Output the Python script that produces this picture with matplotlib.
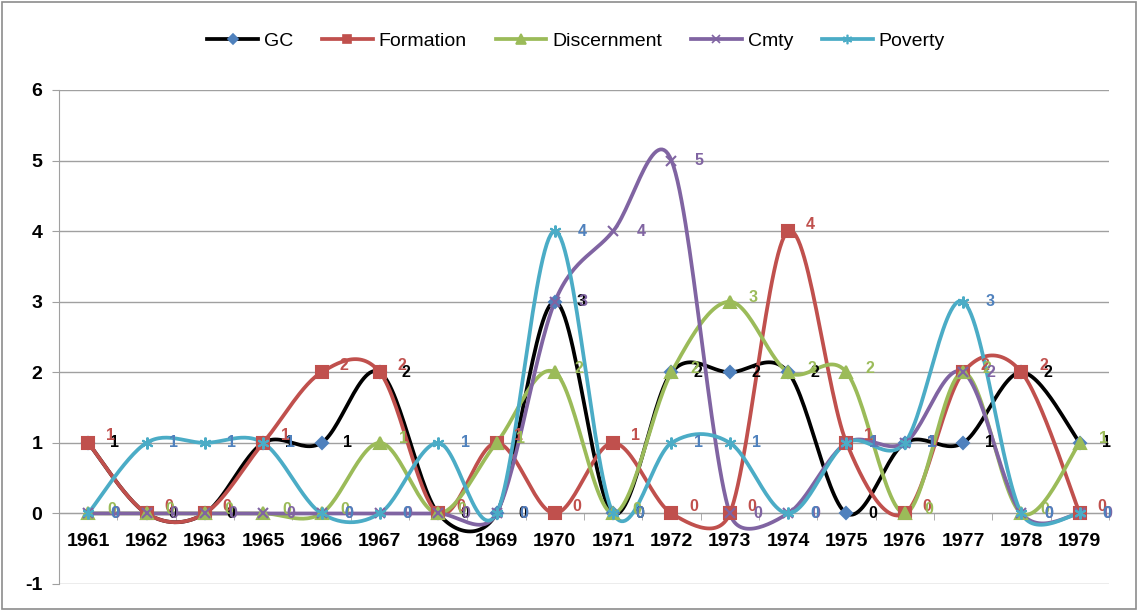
import numpy as np
import matplotlib
matplotlib.use("Agg")
import matplotlib.pyplot as plt
from matplotlib.patches import Rectangle

years = ["1961", "1962", "1963", "1965", "1966", "1967", "1968", "1969", "1970",
         "1971", "1972", "1973", "1974", "1975", "1976", "1977", "1978", "1979"]
gc = [1, 0, 0, 1, 1, 2, 0, 0, 3, 0, 2, 2, 2, 0, 1, 1, 2, 1]
formation = [1, 0, 0, 1, 2, 2, 0, 1, 0, 1, 0, 0, 4, 1, 0, 2, 2, 0]
discernment = [0, 0, 0, 0, 0, 1, 0, 1, 2, 0, 2, 3, 2, 2, 0, 2, 0, 1]
cmty = [0, 0, 0, 0, 0, 0, 0, 0, 3, 4, 5, 0, 0, 1, 1, 2, 0, 0]
poverty = [0, 1, 1, 1, 0, 0, 1, 0, 4, 0, 1, 1, 0, 1, 1, 3, 0, 0]
y_ticks = [-1, 0, 1, 2, 3, 4, 5, 6]

plt.rcParams['font.family'] = ['Liberation Sans', 'DejaVu Sans']

W, H = 1139, 610
L_PX, R_PX, T_PX, B_PX = 59, 1109, 90, 584
X_SCALE = (R_PX - L_PX) / len(years)
Y_SCALE = (B_PX - T_PX) / (y_ticks[-1] - y_ticks[0])


def smooth(x, y, n=30):
    # Excel-like smoothed line: Bezier with (P2-P0)/6 controls, clamped to half segment
    P = np.column_stack([np.asarray(x, float) * X_SCALE, np.asarray(y, float) * Y_SCALE])
    E = np.vstack([P[0], P, P[-1]])
    out = []
    t = np.linspace(0, 1, n)[:, None]
    for i in range(len(P) - 1):
        p0, p1, p2, p3 = E[i], E[i + 1], E[i + 2], E[i + 3]
        d12 = np.linalg.norm(p2 - p1)
        v1 = (p2 - p0) / 6
        v2 = (p3 - p1) / 6
        for v in (v1, v2):
            ln = np.linalg.norm(v)
            if ln > d12 / 2:
                v *= (d12 / 2) / ln
        c1 = p1 + v1
        c2 = p2 - v2
        seg = (1 - t) ** 3 * p1 + 3 * (1 - t) ** 2 * t * c1 + 3 * (1 - t) * t ** 2 * c2 + t ** 3 * p2
        out.append(seg if i == 0 else seg[1:])
    s = np.vstack(out)
    return s[:, 0] / X_SCALE, s[:, 1] / Y_SCALE


fig = plt.figure(figsize=(W / 100, H / 100), dpi=100)
ax = fig.add_axes([L_PX / W, 1 - B_PX / H, (R_PX - L_PX) / W, (B_PX - T_PX) / H])

x = np.arange(len(years))
series = [
    ("GC", gc, "#000000", "D", "#4F81BD", 6.5, "#000000", (19, 0)),
    ("Formation", formation, "#C0504D", "s", "#C0504D", 8, "#C0504D", (16, 5)),
    ("Discernment", discernment, "#9BBB59", "^", "#9BBB59", 8.5, "#9BBB59", (17, 3)),
    ("Cmty", cmty, "#8064A2", "x", "#8064A2", 7, "#8064A2", (20, 0)),
    ("Poverty", poverty, "#4BACC6", (6, 2, 0), "#4BACC6", 8.5, "#4F81BD", (19.5, 0)),
]

ax.spines['bottom'].set_position(('data', 0))

handles = []
for name, vals, col, mk, mcol, ms, lcol, off in series:
    sx, sy = smooth(x, vals)
    ax.plot(sx, sy, color=col, lw=2.7, solid_capstyle='round', zorder=3)
    ax.plot(x, vals, ls='none', marker=mk, ms=ms, color=mcol, mec=mcol, mew=1.5, zorder=4)
    h, = ax.plot([], [], color=col, lw=2.7, marker=mk, ms=ms * 0.8, mfc=mcol, mec=mcol, mew=1.2)
    h.set_label(name)
    handles.append(h)
    for xi, v in zip(x, vals):
        ax.annotate(str(v), (xi, v), xytext=off, textcoords='offset points',
                    ha='center', va='center', color=lcol, fontsize=11.5,
                    fontweight='bold', zorder=5)

ax.set_xlim(-0.5, len(years) - 0.5)
ax.set_ylim(y_ticks[0], y_ticks[-1])
ax.set_yticks(y_ticks)
ax.set_yticklabels([str(v) for v in y_ticks], fontsize=14, fontweight='bold')
ax.yaxis.grid(True, color='#A0A0A0', lw=1)
ax.set_axisbelow(True)
ax.set_xticks(x)
ax.set_xticklabels(years, fontsize=14, fontweight='bold')
ax.set_xticks(np.arange(len(years) + 1) - 0.5, minor=True)
ax.tick_params(axis='x', which='major', length=0, pad=14)
ax.tick_params(axis='x', which='minor', length=5, color='#A0A0A0', direction='out')
ax.tick_params(axis='y', length=5, color='#A0A0A0', pad=7)
ax.spines['bottom'].set_color('#A0A0A0')
ax.spines['left'].set_color('#A0A0A0')
ax.spines['top'].set_visible(False)
ax.spines['right'].set_visible(False)

fig.legend(handles=handles, loc='center', bbox_to_anchor=(576 / W, 1 - 41 / H),
           ncol=5, frameon=False, fontsize=14, handlelength=2.6, columnspacing=1.5,
           handletextpad=0.3)

fig.patches.append(Rectangle((2 / W, 1 / H), 1134 / W, 607 / H,
                             transform=fig.transFigure, fill=False,
                             edgecolor='#8C8C8C', lw=1.2))

fig.savefig("out.png", dpi=100)
